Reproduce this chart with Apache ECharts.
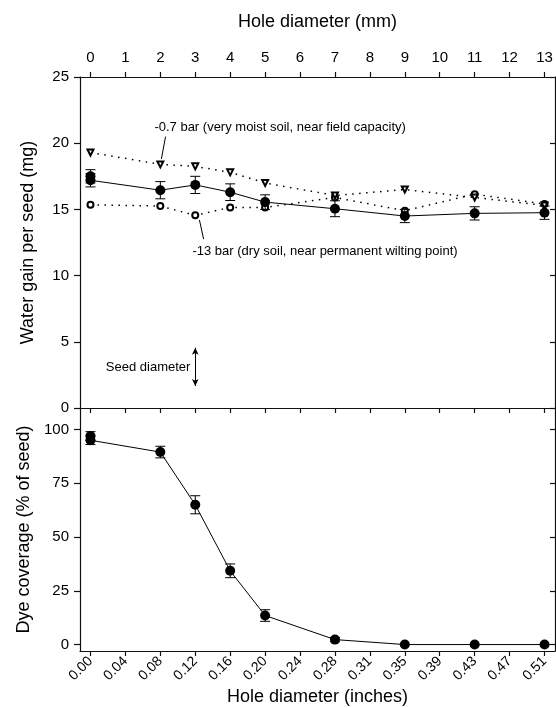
<!DOCTYPE html>
<html>
<head>
<meta charset="utf-8">
<script src="https://cdn.jsdelivr.net/npm/echarts@6/dist/echarts.min.js"></script>
<style>
html, body { margin: 0; padding: 0; background: #fff; }
#myChart { width: 556px; height: 708px; }
</style>
</head>
<body>
<div id="myChart"></div>
<script>
var myChart = echarts.init(document.getElementById('myChart'));

// hole diameter in mm (tick positions) and matching inch labels
var mmTicks = [0, 1, 2, 3, 4, 5, 6, 7, 8, 9, 10, 11, 12, 13];
var inchLabels = ['0.00', '0.04', '0.08', '0.12', '0.16', '0.20', '0.24', '0.28', '0.31', '0.35', '0.39', '0.43', '0.47', '0.51'];
var waterTicks = [0, 5, 10, 15, 20, 25];
var dyeTicks = [0, 25, 50, 75, 100];

// water gain per seed (mg)
var holeMm = [0, 2, 3, 4, 5, 7, 9, 11, 13];
var moist = [19.3, 18.4, 18.25, 17.8, 17.0, 16.05, 16.5, 15.9, 15.3];   // -0.7 bar
var dry = [15.35, 15.25, 14.55, 15.15, 15.15, 15.9, 14.9, 16.15, 15.4];  // -13 bar
var waterX = [0, 0, 2, 3, 4, 5, 7, 9, 11, 13];
var waterMean = [17.5, 17.2, 16.45, 16.85, 16.3, 15.55, 15.05, 14.5, 14.7, 14.75];
var waterErr = [0.5, 0.5, 0.65, 0.65, 0.63, 0.55, 0.6, 0.5, 0.5, 0.5];

// dye coverage (% of seed)
var dyeX = [0, 0, 2, 3, 4, 5, 7, 9, 11, 13];
var dyeMean = [97, 95, 89.5, 65, 34.3, 13.5, 2.3, 0, 0, 0];
var dyeErr = [2, 2, 2.7, 4.2, 3.2, 2.7, 1, 0, 0, 0];

function pairs(xs, ys) {
    var out = [];
    for (var i = 0; i < xs.length; i++) out.push([xs[i], ys[i]]);
    return out;
}
function errRows(xs, ys, es) {
    var out = [];
    for (var i = 0; i < xs.length; i++) out.push([xs[i], ys[i] - es[i], ys[i] + es[i]]);
    return out;
}

function errRender(params, api) {
    var x = api.value(0);
    var lo = api.coord([x, api.value(1)]);
    var hi = api.coord([x, api.value(2)]);
    var w = 5;
    var st = {stroke: '#000', lineWidth: 1};
    return {
        type: 'group',
        children: [
            {type: 'line', shape: {x1: lo[0], y1: lo[1], x2: hi[0], y2: hi[1]}, style: st},
            {type: 'line', shape: {x1: lo[0] - w, y1: lo[1], x2: lo[0] + w, y2: lo[1]}, style: st},
            {type: 'line', shape: {x1: hi[0] - w, y1: hi[1], x2: hi[0] + w, y2: hi[1]}, style: st}
        ]
    };
}

var FONT = 'Liberation Sans';
var axisLineStyle = {color: '#111', width: 1.2};
var tickLabel = {color: '#000', fontFamily: FONT, fontSize: 15};
var nameText = {color: '#000', fontFamily: FONT, fontSize: 18};

myChart.setOption({
    animation: false,
    textStyle: {fontFamily: FONT},
    grid: [
        {left: 80, right: 1, top: 77, height: 331},
        {left: 80, right: 1, top: 408, bottom: 57}
    ],
    xAxis: [
        {gridIndex: 0, type: 'value', position: 'top', min: -0.3, max: 13.3,
         name: 'Hole diameter (mm)', nameLocation: 'middle', nameGap: 46, nameTextStyle: nameText,
         axisLine: {onZero: false, lineStyle: axisLineStyle}, splitLine: {show: false},
         axisTick: {customValues: mmTicks, length: 5, lineStyle: axisLineStyle},
         axisLabel: Object.assign({customValues: mmTicks, margin: 12}, tickLabel)},
        {gridIndex: 0, type: 'value', position: 'bottom', min: -0.3, max: 13.3,
         axisLine: {show: false, onZero: false}, axisTick: {show: false}, axisLabel: {show: false}, splitLine: {show: false}},
        {gridIndex: 1, type: 'value', position: 'top', min: -0.3, max: 13.3,
         axisLine: {onZero: false, lineStyle: axisLineStyle}, splitLine: {show: false},
         axisTick: {customValues: mmTicks, inside: true, length: 5, lineStyle: axisLineStyle},
         axisLabel: {show: false}},
        {gridIndex: 1, type: 'value', position: 'bottom', min: -0.3, max: 13.3,
         name: 'Hole diameter (inches)', nameLocation: 'middle', nameGap: 37, nameTextStyle: nameText,
         axisLine: {onZero: false, lineStyle: axisLineStyle}, splitLine: {show: false},
         axisTick: {customValues: mmTicks, length: 5, lineStyle: axisLineStyle},
         axisLabel: {customValues: mmTicks, rotate: 45, margin: 8, color: '#000', fontFamily: FONT, fontSize: 14,
                     formatter: function (v) { return inchLabels[Math.round(v)]; }}}
    ],
    yAxis: [
        {gridIndex: 0, type: 'value', min: 0, max: 25, interval: 5,
         name: 'Water gain per seed (mg)', nameLocation: 'middle', nameGap: 43, nameTextStyle: nameText,
         axisLine: {show: true, onZero: false, lineStyle: axisLineStyle}, splitLine: {show: false},
         axisTick: {show: true, length: 6, lineStyle: axisLineStyle},
         axisLabel: Object.assign({margin: 11}, tickLabel)},
        {gridIndex: 0, type: 'value', position: 'right', min: 0, max: 25, interval: 5,
         axisLine: {show: true, onZero: false, lineStyle: axisLineStyle}, splitLine: {show: false},
         axisTick: {show: true, inside: true, length: 5, lineStyle: axisLineStyle},
         axisLabel: {show: false}},
        {gridIndex: 1, type: 'value', min: -3, max: 110,
         name: 'Dye coverage (% of seed)', nameLocation: 'middle', nameGap: 43, nameTextStyle: nameText,
         axisLine: {show: true, onZero: false, lineStyle: axisLineStyle}, splitLine: {show: false},
         axisTick: {show: true, customValues: dyeTicks, length: 6, lineStyle: axisLineStyle},
         axisLabel: Object.assign({customValues: dyeTicks, margin: 11}, tickLabel)},
        {gridIndex: 1, type: 'value', position: 'right', min: -3, max: 110,
         axisLine: {show: true, onZero: false, lineStyle: axisLineStyle}, splitLine: {show: false},
         axisTick: {show: true, inside: true, customValues: dyeTicks, length: 5, lineStyle: axisLineStyle},
         axisLabel: {show: false}}
    ],
    series: [
        {name: '-13 bar', type: 'line', xAxisIndex: 0, yAxisIndex: 0, data: pairs(holeMm, dry),
         symbol: 'emptyCircle', symbolSize: 6, z: 3,
         itemStyle: {color: '#000', borderWidth: 0.8},
         lineStyle: {color: '#000', width: 1.5, type: [1.5, 5.5]}},
        {name: '-0.7 bar', type: 'line', xAxisIndex: 0, yAxisIndex: 0, data: pairs(holeMm, moist),
         symbol: 'emptyTriangle', symbolRotate: 180, symbolSize: 6, z: 3,
         itemStyle: {color: '#000', borderWidth: 0.8},
         lineStyle: {color: '#000', width: 1.5, type: [1.5, 5.5]},
         markLine: {
             silent: true, symbol: ['arrow', 'arrow'], symbolSize: [5, 7],
             lineStyle: {color: '#000', width: 1, type: 'solid'}, label: {show: false},
             data: [[{coord: [3, 4.55]}, {coord: [3, 1.66]}]]
         }},
        {name: 'water err', type: 'custom', xAxisIndex: 0, yAxisIndex: 0, renderItem: errRender,
         data: errRows(waterX, waterMean, waterErr), encode: {x: 0, y: [1, 2]}, z: 4},
        {name: 'water', type: 'line', xAxisIndex: 0, yAxisIndex: 0, data: pairs(waterX, waterMean),
         symbol: 'circle', symbolSize: 10, z: 5,
         itemStyle: {color: '#000'}, lineStyle: {color: '#000', width: 1}},
        {name: 'dye err', type: 'custom', xAxisIndex: 2, yAxisIndex: 2, renderItem: errRender,
         data: errRows(dyeX, dyeMean, dyeErr), encode: {x: 0, y: [1, 2]}, z: 4},
        {name: 'dye', type: 'line', xAxisIndex: 2, yAxisIndex: 2, data: pairs(dyeX, dyeMean),
         symbol: 'circle', symbolSize: 10, z: 5,
         itemStyle: {color: '#000'}, lineStyle: {color: '#000', width: 1}}
    ]
});

// annotations placed from data coordinates of the top panel
function px(x, y) { return myChart.convertToPixel({xAxisIndex: 0, yAxisIndex: 0}, [x, y]); }
var t1 = px(1.83, 21.2), l1a = px(2.15, 20.5), l1b = px(2.03, 18.8);
var t2 = px(2.92, 11.8), l2a = px(3.24, 12.75), l2b = px(3.12, 14.2);
var t3 = px(2.86, 3.1);
var annText = {fill: '#000', fontFamily: FONT, fontSize: 13, verticalAlign: 'middle'};
myChart.setOption({
    graphic: [
        {type: 'text', x: t1[0], y: t1[1], style: Object.assign({text: '-0.7 bar (very moist soil, near field capacity)', align: 'left'}, annText)},
        {type: 'line', shape: {x1: l1a[0], y1: l1a[1], x2: l1b[0], y2: l1b[1]}, style: {stroke: '#000', lineWidth: 1}},
        {type: 'text', x: t2[0], y: t2[1], style: Object.assign({text: '-13 bar (dry soil, near permanent wilting point)', align: 'left'}, annText)},
        {type: 'line', shape: {x1: l2a[0], y1: l2a[1], x2: l2b[0], y2: l2b[1]}, style: {stroke: '#000', lineWidth: 1}},
        {type: 'text', x: t3[0], y: t3[1], style: Object.assign({text: 'Seed diameter', align: 'right'}, annText)}
    ]
});
</script>
</body>
</html>
